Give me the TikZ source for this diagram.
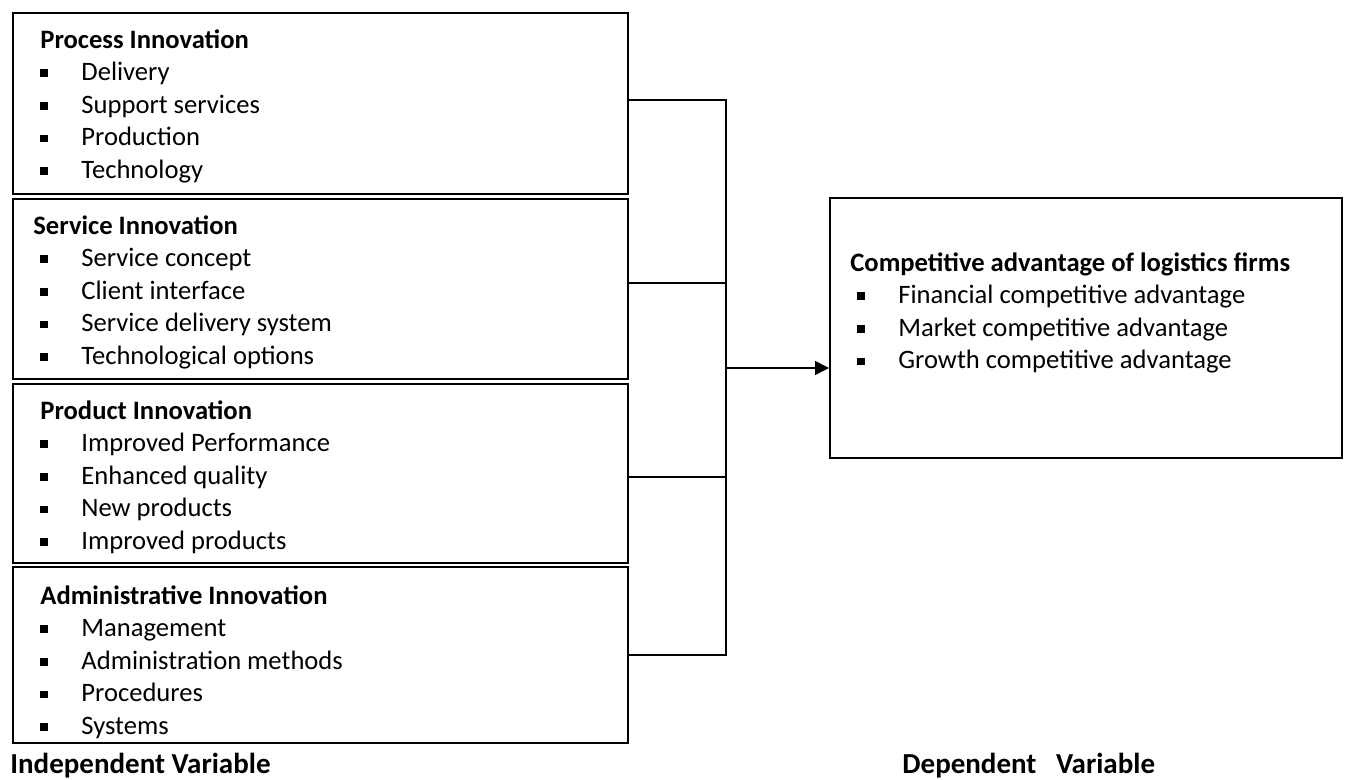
\documentclass[tikz,border=0pt]{standalone}
\usepackage{fontspec}
\usepackage{xcolor}
\usepackage{tikz}
\usetikzlibrary{arrows.meta,positioning}
\setmainfont{Carlito}
\newcommand{\sqb}{\rule[0.14em]{3.6pt}{3.8pt}}
\newcommand{\itm}[1]{\makebox[24pt][l]{\hspace*{3.5pt}\sqb}#1}

\begin{document}
\begin{tikzpicture}[x=0.5pt,y=-0.5pt,
  box/.style={draw, line width=0.8pt, anchor=north west, inner sep=0pt, minimum width=307.5pt},
  body/.style={anchor=north west, align=left, inner sep=0pt, font=\fontsize{13.3pt}{16.3pt}\selectfont},
  link/.style={line width=0.8pt},
  varlabel/.style={anchor=west, inner sep=0pt, font=\fontsize{14.5pt}{17pt}\selectfont\bfseries}]%
\useasboundingbox (0,0) rectangle (1346,780);%
% independent variable boxes
\node[box, minimum height=90.5pt] (proc) at (12,12) {};%
\node[box, minimum height=90pt] (serv) at (12,198) {};%
\node[box, minimum height=89.5pt] (prod) at (12,383) {};%
\node[box, minimum height=88pt] (admin) at (12,566) {};%
\node[body, below right=8.5pt and 10.5pt of proc.north west] (proctxt) {\hspace*{3.5pt}\textbf{Process Innovation}\\ \itm{Delivery}\\ \itm{Support services}\\ \itm{Production}\\ \itm{Technology}};%
\node[body, below right=8.5pt and 10.5pt of serv.north west] (servtxt) {\textbf{Service Innovation}\\ \itm{Service concept}\\ \itm{Client interface}\\ \itm{Service delivery system}\\ \itm{Technological options}};%
\node[body, below right=8.5pt and 10.5pt of prod.north west] (prodtxt) {\hspace*{3.5pt}\textbf{Product Innovation}\\ \itm{Improved Performance}\\ \itm{Enhanced quality}\\ \itm{New products}\\ \itm{Improved products}};%
\node[body, below right=9.5pt and 10.5pt of admin.north west] (admintxt) {\hspace*{3.5pt}\textbf{Administrative Innovation}\\ \itm{Management}\\ \itm{Administration methods}\\ \itm{Procedures}\\ \itm{Systems}};%
% dependent variable box
\node[box, minimum width=256pt, minimum height=130pt] (result) at (829,197) {};%
\node[body, below right=27.5pt and 10.5pt of result.north west] (resulttxt) {\textbf{Competitive advantage of logistics firms}\\ \itm{Financial competitive advantage}\\ \itm{Market competitive advantage}\\ \itm{Growth competitive advantage}};%
% connectors
\coordinate (bus) at (726,368);%
\draw[link] ([yshift=1.75pt]proc.east) -| (bus);%
\draw[link] (admin.east) -| (bus);%
\draw[link] ([yshift=3pt]serv.east) -- ([yshift=3pt]serv.east -| bus);%
\draw[link] ([yshift=-1.75pt]prod.east) -- ([yshift=-1.75pt]prod.east -| bus);%
\draw[link, -{Triangle[length=7pt, width=7pt]}] (bus) -- (result.west |- bus);%
% variable labels
\node[varlabel] (indep) at (10,766) {Independent Variable};%
\node[varlabel] (dep) at (902,766) {Dependent \ \ Variable};%
\end{tikzpicture}
\end{document}
